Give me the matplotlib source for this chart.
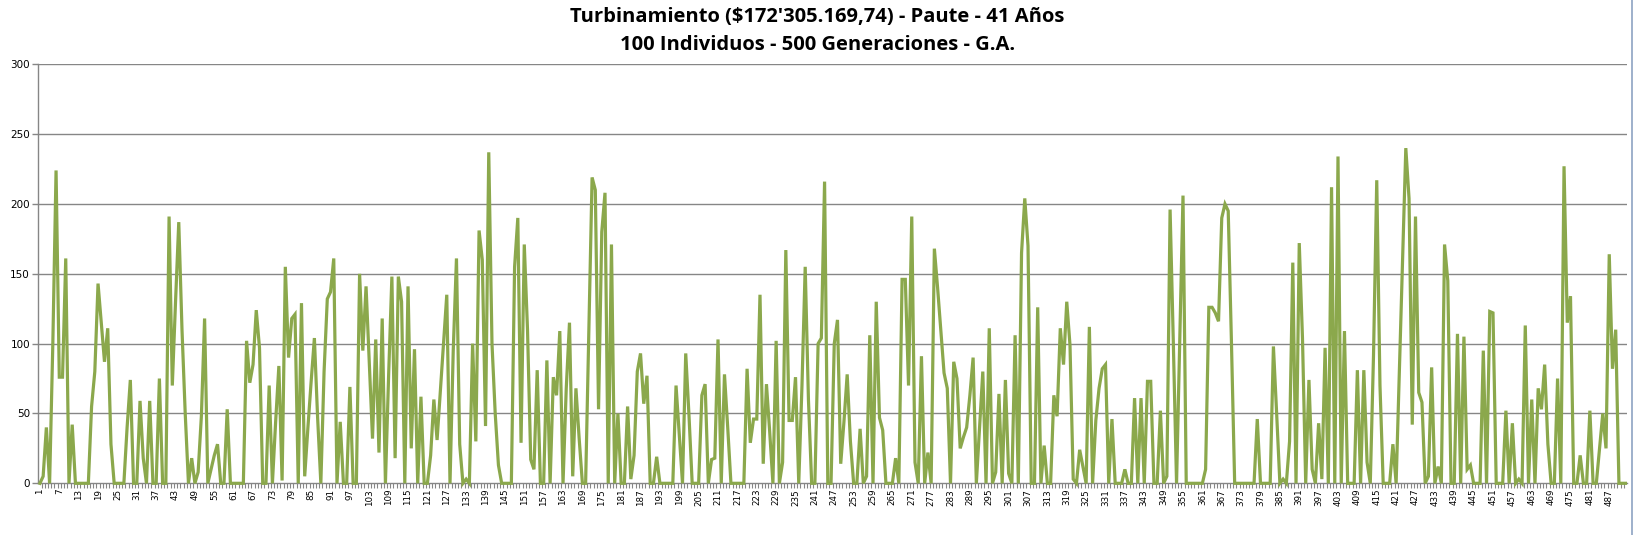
import matplotlib
matplotlib.use("Agg")
import matplotlib.pyplot as plt
from matplotlib.lines import Line2D

title_line1 = "Turbinamiento ($172'305.169,74) - Paute - 41 Años"
title_line2 = "100 Individuos - 500 Generaciones - G.A."

values = [
    0, 5, 40, 0, 100, 224, 76, 76, 161, 0,
    42, 0, 0, 0, 0, 0, 55, 80, 143, 115,
    87, 111, 28, 0, 0, 0, 0, 40, 74, 0,
    0, 59, 18, 0, 59, 0, 0, 75, 0, 0,
    191, 70, 130, 187, 110, 50, 0, 18, 0, 8,
    48, 118, 0, 10, 20, 28, 0, 0, 53, 0,
    0, 0, 0, 0, 102, 72, 85, 124, 97, 0,
    0, 70, 0, 44, 84, 2, 155, 90, 118, 121,
    0, 129, 5, 40, 73, 104, 47, 0, 80, 132,
    137, 161, 0, 44, 0, 0, 69, 0, 0, 150,
    95, 141, 87, 32, 103, 22, 118, 0, 78, 148,
    18, 148, 130, 0, 141, 25, 96, 0, 62, 0,
    0, 20, 60, 31, 66, 100, 135, 0, 95, 161,
    28, 0, 3, 0, 100, 30, 181, 160, 41, 237,
    100, 50, 13, 0, 0, 0, 0, 155, 190, 29,
    171, 110, 17, 10, 81, 0, 0, 88, 0, 76,
    63, 109, 0, 68, 115, 5, 68, 32, 0, 0,
    111, 219, 210, 53, 180, 208, 0, 171, 0, 50,
    0, 0, 55, 3, 20, 80, 93, 57, 77, 0,
    0, 19, 0, 0, 0, 0, 0, 70, 35, 0,
    93, 49, 0, 0, 0, 63, 71, 0, 17, 18,
    103, 0, 78, 40, 0, 0, 0, 0, 0, 82,
    29, 46, 46, 135, 14, 71, 37, 0, 102, 0,
    15, 167, 45, 45, 76, 0, 70, 155, 60, 0,
    0, 100, 104, 216, 0, 0, 100, 117, 14, 44,
    78, 30, 0, 0, 39, 0, 5, 106, 0, 130,
    47, 38, 0, 0, 0, 18, 0, 146, 146, 70,
    191, 15, 0, 91, 0, 22, 0, 168, 140, 110,
    79, 68, 0, 87, 75, 25, 33, 40, 63, 90,
    0, 40, 80, 0, 111, 0, 8, 64, 0, 74,
    7, 0, 106, 0, 165, 204, 170, 0, 0, 126,
    0, 27, 0, 0, 63, 48, 111, 85, 130, 99,
    3, 0, 24, 12, 0, 112, 0, 45, 68, 82,
    85, 0, 46, 0, 0, 0, 10, 0, 0, 61,
    0, 61, 0, 73, 73, 0, 0, 52, 0, 5,
    196, 101, 0, 104, 206, 0, 0, 0, 0, 0,
    0, 10, 126, 126, 122, 116, 190, 200, 195, 101,
    0, 0, 0, 0, 0, 0, 0, 46, 0, 0,
    0, 0, 98, 50, 0, 3, 0, 30, 158, 0,
    172, 104, 0, 74, 10, 0, 43, 3, 97, 0,
    212, 0, 234, 0, 109, 0, 0, 0, 81, 0,
    81, 15, 0, 92, 217, 70, 0, 0, 0, 28,
    0, 80, 160, 240, 204, 42, 191, 65, 58, 0,
    5, 83, 0, 12, 0, 171, 145, 0, 0, 107,
    0, 105, 10, 13, 0, 0, 0, 95, 0, 123,
    122, 0, 0, 0, 52, 0, 43, 0, 3, 0,
    113, 0, 60, 0, 68, 53, 85, 28, 0, 0,
    75, 0, 227, 115, 134, 0, 0, 20, 0, 0,
    52, 0, 0, 25, 50, 25, 164, 82, 110, 0,
    0, 0,
]
months = list(range(1, len(values) + 1))
x_tick_labels = [str(m) for m in months if (m - 1) % 6 == 0]
y_ticks = [0, 50, 100, 150, 200, 250, 300]

W, H = 1635, 535
fig = plt.figure(figsize=(W / 100, H / 100), dpi=100)
fig.patch.set_facecolor("white")
ax = fig.add_axes([38.3 / W, 1 - 483.3 / H, (1627 - 38.3) / W, (483.3 - 64.3) / H])

grid_c = "#868686"
ax.plot(months, values, color="#8BA84C", lw=2.3, solid_joinstyle="miter", zorder=3, clip_on=False)

ax.set_xlim(0.5, len(values) + 0.5)
ax.set_ylim(0, 300)
ax.set_yticks(y_ticks)
ax.set_yticklabels([str(v) for v in y_ticks], fontsize=7.5, family="DejaVu Sans")
for v in y_ticks[1:]:
    ax.axhline(v, color=grid_c, lw=1.0, zorder=1)

ax.set_xticks([int(t) for t in x_tick_labels])
ax.set_xticklabels(x_tick_labels, rotation=90, fontsize=6.3, family="DejaVu Sans")
ax.set_xticks([m + 0.5 for m in months[:-1]], minor=True)
ax.tick_params(axis="x", which="major", length=0, pad=4)
ax.tick_params(axis="x", which="minor", length=3.5, color=grid_c, width=0.8)
ax.tick_params(axis="y", length=4, color=grid_c, width=1, pad=2)

for s in ["top", "right"]:
    ax.spines[s].set_visible(False)
for s in ["left", "bottom"]:
    ax.spines[s].set_color(grid_c)
    ax.spines[s].set_linewidth(1.0)

fig.text(0.5, 1 - 17 / H, title_line1, ha="center", va="center", fontsize=14.5,
         fontweight="bold", family="Open Sans")
fig.text(0.5, 1 - 45 / H, title_line2, ha="center", va="center", fontsize=14.5,
         fontweight="bold", family="Open Sans")

fig.add_artist(Line2D([1632 / W, 1632 / W], [0, 1], color="#8EA3C2", lw=1.2))

fig.savefig("out.png", dpi=100, facecolor="white")
